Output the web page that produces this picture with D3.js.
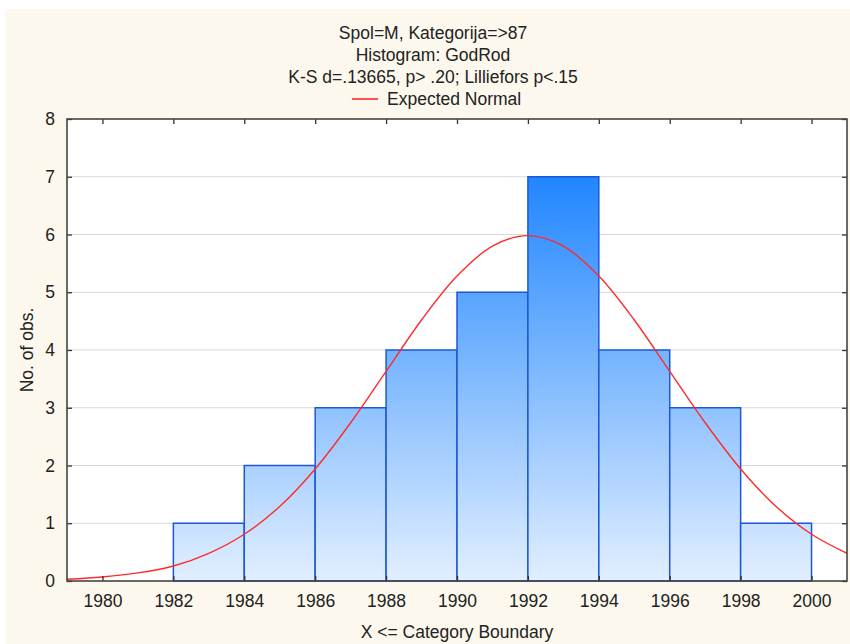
<!DOCTYPE html>
<html>
<head>
<meta charset="utf-8">
<script src="https://cdn.jsdelivr.net/npm/d3@7"></script>
<style>
  body { margin: 0; background: #fff; }
  text { font-family: "Liberation Sans", Arial, sans-serif; fill: #222; }
</style>
</head>
<body>
<div id="chart"></div>
<script>
// histogram: bins are (lo, hi], "X <= Category Boundary"
const binEdges = [1982, 1984, 1986, 1988, 1990, 1992, 1994, 1996, 1998, 2000];
const counts = [1, 2, 3, 4, 5, 7, 4, 3, 1];

const xTicks = [1980, 1982, 1984, 1986, 1988, 1990, 1992, 1994, 1996, 1998, 2000];
const yTicks = [0, 1, 2, 3, 4, 5, 6, 7, 8];

// expected normal curve, read at each year
const normYears = [1979, 1980, 1981, 1982, 1983, 1984, 1985, 1986, 1987, 1988, 1989, 1990,
    1991, 1992, 1993, 1994, 1995, 1996, 1997, 1998, 1999, 2000, 2001];
const normValues = [0.03, 0.07, 0.14, 0.26, 0.48, 0.81, 1.29, 1.94, 2.74, 3.63, 4.52, 5.28,
    5.80, 5.98, 5.80, 5.28, 4.52, 3.63, 2.74, 1.94, 1.29, 0.81, 0.48];

const titleLines = ['Spol=M, Kategorija=>87', 'Histogram: GodRod', 'K-S d=.13665, p> .20; Lilliefors p<.15'];

const W = 850, H = 644;
const margin = { top: 119, right: 3, bottom: 63, left: 67 };
const pw = W - margin.left - margin.right;
const ph = H - margin.top - margin.bottom;
const fs = '17.5px';

const svg = d3.select('#chart').append('svg')
    .attr('width', W)
    .attr('height', H);

const defs = svg.append('defs');
const grad = defs.append('linearGradient')
    .attr('id', 'barGrad')
    .attr('gradientUnits', 'userSpaceOnUse')
    .attr('x1', 0).attr('x2', 0);
defs.append('clipPath').attr('id', 'plotClip')
    .append('rect').attr('width', pw).attr('height', ph);

// cream panel
svg.append('rect')
    .attr('x', 5).attr('y', 9)
    .attr('width', W - 5).attr('height', H - 9)
    .attr('fill', '#fdf8ed');

const x = d3.scaleLinear().domain([1979, 2001]).range([0, pw]);
const y = d3.scaleLinear().domain([0, 8]).range([ph, 0]);

grad.attr('y1', y(d3.max(counts))).attr('y2', y(0));
grad.append('stop').attr('offset', 0).attr('stop-color', '#2186ff');
grad.append('stop').attr('offset', 1).attr('stop-color', '#e2efff');

const g = svg.append('g').attr('transform', `translate(${margin.left},${margin.top})`);

g.append('rect').attr('width', pw).attr('height', ph).attr('fill', '#fff');

// gridlines
g.selectAll('.grid')
    .data(yTicks.filter(d => d > 0 && d < 8))
    .enter().append('line')
    .attr('class', 'grid')
    .attr('x1', 0).attr('x2', pw)
    .attr('y1', d => y(d)).attr('y2', d => y(d))
    .attr('stroke', '#d9d9d9')
    .attr('stroke-width', 1);

// bars
const bins = counts.map((c, i) => ({ lo: binEdges[i], hi: binEdges[i + 1], n: c }));
g.selectAll('.bar')
    .data(bins)
    .enter().append('rect')
    .attr('class', 'bar')
    .attr('x', d => x(d.lo))
    .attr('y', d => y(d.n))
    .attr('width', d => x(d.hi) - x(d.lo))
    .attr('height', d => y(0) - y(d.n))
    .attr('fill', 'url(#barGrad)')
    .attr('stroke', '#1c58d4')
    .attr('stroke-width', 1.5);

// expected normal
const line = d3.line()
    .x((d, i) => x(normYears[i]))
    .y(d => y(d))
    .curve(d3.curveCatmullRom);
g.append('path')
    .datum(normValues)
    .attr('clip-path', 'url(#plotClip)')
    .attr('d', line)
    .attr('fill', 'none')
    .attr('stroke', '#ff2a2a')
    .attr('stroke-width', 1.4);

// axes (ticks pointing inward on all four sides)
const tickLen = 5;
const axBottom = g.append('g').attr('transform', `translate(0,${ph})`)
    .call(d3.axisBottom(x).tickValues(xTicks).tickFormat(d3.format('d')).tickSize(-tickLen).tickPadding(14));
const axTop = g.append('g')
    .call(d3.axisTop(x).tickValues(xTicks).tickFormat('').tickSize(-tickLen));
const axLeft = g.append('g')
    .call(d3.axisLeft(y).tickValues(yTicks).tickSize(-tickLen).tickPadding(12));
const axRight = g.append('g').attr('transform', `translate(${pw},0)`)
    .call(d3.axisRight(y).tickValues(yTicks).tickFormat('').tickSize(-tickLen));

[axBottom, axTop, axLeft, axRight].forEach(a => {
    a.select('.domain').remove();
    a.selectAll('.tick line').attr('stroke', '#333').attr('stroke-width', 1.3);
    a.selectAll('.tick text')
        .attr('fill', '#222')
        .style('font-size', fs)
        .style('font-family', '"Liberation Sans", Arial, sans-serif');
});

g.append('rect')
    .attr('width', pw).attr('height', ph)
    .attr('fill', 'none')
    .attr('stroke', '#444')
    .attr('stroke-width', 1.6);

// titles
svg.selectAll('.title')
    .data(titleLines)
    .enter().append('text')
    .attr('class', 'title')
    .attr('x', 433)
    .attr('y', (d, i) => 38.5 + i * 22)
    .attr('text-anchor', 'middle')
    .style('font-size', fs)
    .text(d => d);

// legend
const leg = svg.append('g').attr('transform', 'translate(352,99)');
leg.append('line').attr('x1', 0).attr('x2', 26)
    .attr('stroke', '#ff2a2a').attr('stroke-width', 1.6);
leg.append('text').attr('x', 35).attr('y', 6)
    .style('font-size', fs)
    .text('Expected Normal');

// axis titles
svg.append('text')
    .attr('x', margin.left + pw / 2)
    .attr('y', 638)
    .attr('text-anchor', 'middle')
    .style('font-size', fs)
    .text('X <= Category Boundary');

svg.append('text')
    .attr('transform', `translate(33,${margin.top + ph / 2}) rotate(-90)`)
    .attr('text-anchor', 'middle')
    .style('font-size', fs)
    .text('No. of obs.');
</script>
</body>
</html>
